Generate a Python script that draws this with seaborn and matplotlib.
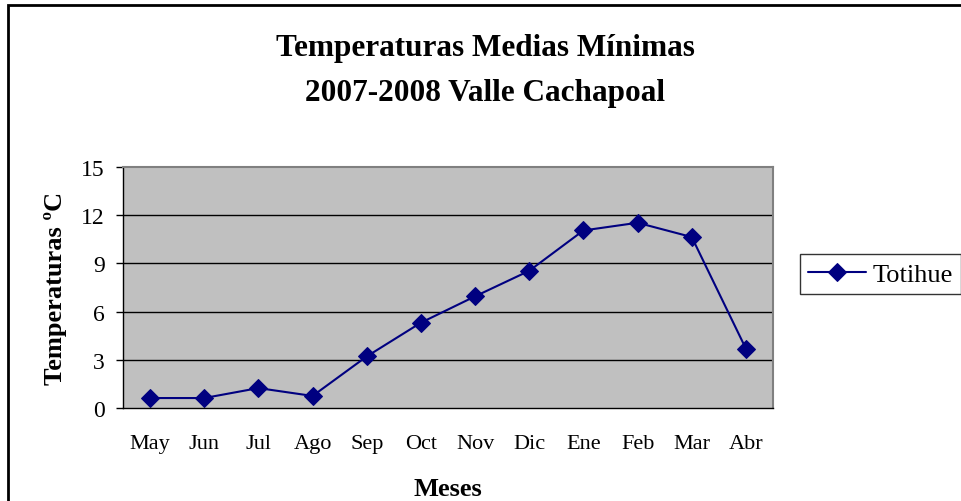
import numpy as np
import pandas as pd
import matplotlib
matplotlib.use("Agg")
import matplotlib.pyplot as plt
import seaborn as sns
from matplotlib.patches import Rectangle

# data
meses = ["May", "Jun", "Jul", "Ago", "Sep", "Oct", "Nov", "Dic", "Ene", "Feb", "Mar", "Abr"]
totihue = [0.62, 0.62, 1.24, 0.75, 3.21, 5.31, 6.95, 8.54, 11.05, 11.53, 10.64, 3.69]
y_ticks = [0, 3, 6, 9, 12, 15]

df = pd.DataFrame({"pos": np.arange(len(meses)), "temp": totihue, "serie": "Totihue"})

sns.set_style("white")
plt.rcParams["font.family"] = ["Liberation Serif", "DejaVu Serif"]
plt.rcParams["text.color"] = "black"
plt.rcParams["axes.labelcolor"] = "black"
plt.rcParams["xtick.color"] = "black"
plt.rcParams["ytick.color"] = "black"

fig = plt.figure(figsize=(9.61, 5.02), dpi=100)
ax = fig.add_axes([123 / 961, 1 - 409 / 502, 650 / 961, 241 / 502])
ax.set_facecolor("#c0c0c0")

sns.lineplot(data=df, x="pos", y="temp", hue="serie", palette=["#000080"],
             marker="D", markersize=9, markeredgecolor="#000080",
             linewidth=1.5, ax=ax)

ax.set_xlim(-0.5, len(meses) - 0.5)
ax.set_ylim(0, 15)
ax.set_yticks(y_ticks)
ax.set_yticklabels([str(t) for t in y_ticks], fontsize=17)
ax.set_xticks(np.arange(len(meses)))
ax.set_xticklabels(meses, fontsize=16)
ax.set_xticks(np.arange(len(meses) + 1) - 0.5, minor=True)
ax.tick_params(axis="x", which="major", length=0, pad=19)
ax.tick_params(axis="x", which="minor", length=5, width=1, color="black", direction="out")
ax.tick_params(axis="y", length=5, width=1, color="black", direction="out", pad=8, left=True)

for t in y_ticks[1:-1]:
    ax.axhline(t, color="black", linewidth=1, zorder=1)

for s in ["top", "right"]:
    ax.spines[s].set_color("#808080")
    ax.spines[s].set_linewidth(1.5)
for s in ["left", "bottom"]:
    ax.spines[s].set_color("black")
    ax.spines[s].set_linewidth(1)

ax.set_xlabel("Meses", fontsize=19, fontweight="bold", labelpad=17)
ax.set_ylabel("Temperaturas ºC", fontsize=19, fontweight="bold", labelpad=10)

fig.text(485 / 961, 1 - 71 / 502, "Temperaturas Medias Mínimas\n2007-2008 Valle Cachapoal",
         ha="center", va="center", fontsize=22.5, fontweight="bold", linespacing=1.75)

leg = ax.legend(loc="center left", bbox_to_anchor=(800 / 961, 1 - 275 / 502),
                bbox_transform=fig.transFigure, fontsize=19, frameon=True,
                fancybox=False, edgecolor="black", handlelength=2.2,
                borderpad=0.3, handletextpad=0.25, borderaxespad=0)
leg.get_frame().set_linewidth(1)
leg.set_title(None)

fig.patches.append(Rectangle((8 / 961, -0.1), 1.1, (1 - 6 / 502) + 0.1,
                             transform=fig.transFigure, fill=False,
                             edgecolor="black", linewidth=2))

fig.savefig("out.png", dpi=100)
